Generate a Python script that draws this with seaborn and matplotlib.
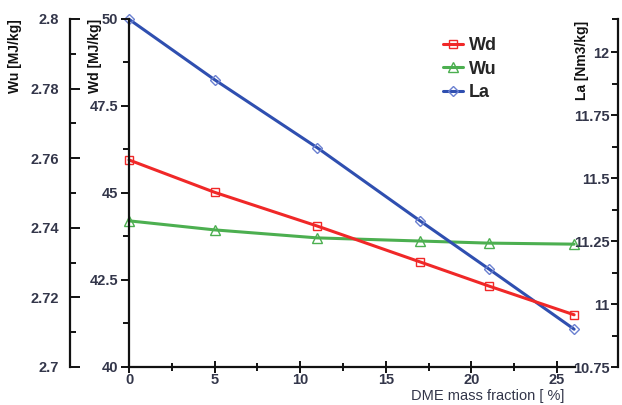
import matplotlib
matplotlib.use("Agg")
import matplotlib.pyplot as plt
import seaborn as sns
import pandas as pd
from matplotlib.ticker import MultipleLocator, FixedLocator, FormatStrFormatter

# ---- data ----
dme = [0, 5, 11, 17, 21, 26]
wd = [45.95, 45.02, 44.05, 43.02, 42.33, 41.5]
wu = [2.742, 2.7394, 2.7371, 2.7362, 2.7356, 2.7353]
la = [12.13, 11.89, 11.62, 11.33, 11.14, 10.90]

wd_ticks = [40, 42.5, 45, 47.5, 50]
wu_ticks = [2.7, 2.72, 2.74, 2.76, 2.78, 2.8]
la_ticks = [10.75, 11, 11.25, 11.5, 11.75, 12]
x_ticks = [0, 5, 10, 15, 20, 25]

df = pd.DataFrame({"DME": dme, "Wd": wd, "Wu": wu, "La": la})

sns.set_theme(style="white")
plt.rcParams['font.family'] = ['Liberation Sans', 'DejaVu Sans']

W, H = 622, 405
fig = plt.figure(figsize=(W / 100, H / 100), dpi=100)
x0, x1, y0, y1 = 129, 575, 19, 367
ax = fig.add_axes([x0 / W, 1 - y1 / H, (x1 - x0) / W, (y1 - y0) / H])
ax.set_facecolor("white")
fig.patch.set_facecolor("white")

red, green, blue = "#f02828", "#4caf50", "#2f4fb0"
tick_color = "#33364a"
fmt = FormatStrFormatter("%g")

sns.lineplot(data=df, x="DME", y="Wd", ax=ax, color=red, marker="s", markersize=6,
             markerfacecolor="none", markeredgecolor=red, markeredgewidth=1.0, lw=2.2,
             label="Wd", legend=False, clip_on=False)

ax2 = ax.twinx()
sns.lineplot(data=df, x="DME", y="Wu", ax=ax2, color=green, marker="^", markersize=7,
             markerfacecolor="none", markeredgecolor=green, markeredgewidth=1.0, lw=2.2,
             label="Wu", legend=False, clip_on=False)

ax3 = ax.twinx()
sns.lineplot(data=df, x="DME", y="La", ax=ax3, color=blue, marker="D", markersize=5.5,
             markerfacecolor="none", markeredgecolor="#6a80d0", markeredgewidth=1.0, lw=2.2,
             label="La", legend=False, clip_on=False)

# x axis
ax.set_xlim(0, (x1 - x0) / 17.12)
ax.xaxis.set_major_locator(FixedLocator(x_ticks))
ax.xaxis.set_minor_locator(FixedLocator([2.5, 7.5, 12.5, 17.5, 22.5]))
ax.xaxis.set_major_formatter(fmt)
ax.tick_params(axis="x", which="major", direction="inout", length=9, width=1.4,
               colors="#111111", labelcolor=tick_color, labelsize=10.5, pad=0)
ax.tick_params(axis="x", which="minor", direction="inout", length=6, width=1.4, colors="#111111")
ax.tick_params(axis="x", which="both", bottom=True)
ax.set_xlabel("")
for lbl in ax.get_xticklabels():
    lbl.set_fontweight("bold")

# Wd axis (main left)
ax.set_ylim(40, 50)
ax.yaxis.set_major_locator(FixedLocator(wd_ticks))
ax.yaxis.set_minor_locator(MultipleLocator(1.25))
ax.yaxis.set_major_formatter(fmt)
ax.tick_params(axis="y", which="major", direction="out", length=6, width=1.4,
               colors="#111111", labelcolor=tick_color, labelsize=10.5, left=True, pad=2)
ax.tick_params(axis="y", which="minor", direction="out", length=4, width=1.4,
               colors="#111111", left=True)
ax.set_ylabel("")
for lbl in ax.get_yticklabels():
    lbl.set_fontweight("bold")

for s in ["top", "right"]:
    ax.spines[s].set_visible(False)
for s in ["left", "bottom"]:
    ax.spines[s].set_color("#111111")
    ax.spines[s].set_linewidth(1.6)

# Wu axis (outer left)
ax2.set_ylim(2.7, 2.8)
ax2.yaxis.tick_left()
ax2.yaxis.set_label_position("left")
ax2.spines["left"].set_visible(True)
ax2.spines["left"].set_position(("axes", (70 - x0) / (x1 - x0)))
ax2.spines["left"].set_color("#111111")
ax2.spines["left"].set_linewidth(1.6)
for s in ["top", "right", "bottom"]:
    ax2.spines[s].set_visible(False)
ax2.yaxis.set_major_locator(FixedLocator(wu_ticks))
ax2.yaxis.set_minor_locator(FixedLocator([2.71, 2.73, 2.75, 2.77, 2.79]))
ax2.yaxis.set_major_formatter(fmt)
ax2.tick_params(axis="y", which="major", direction="in", length=7, width=1.4,
                colors="#111111", labelcolor=tick_color, labelsize=10.5, left=True, right=False, pad=8)
ax2.tick_params(axis="y", which="minor", direction="in", length=4, width=1.4,
                colors="#111111", left=True, right=False)
ax2.set_ylabel("")
for lbl in ax2.get_yticklabels():
    lbl.set_fontweight("bold")

# La axis (far right, labels on its left)
ax3.set_ylim(10.75, 10.75 + (y1 - y0) / 252.0)
ax3.yaxis.tick_left()
ax3.spines["left"].set_visible(True)
ax3.spines["left"].set_position(("axes", (618 - x0) / (x1 - x0)))
ax3.spines["left"].set_color("#111111")
ax3.spines["left"].set_linewidth(1.6)
for s in ["top", "right", "bottom"]:
    ax3.spines[s].set_visible(False)
ax3.yaxis.set_major_locator(FixedLocator(la_ticks))
ax3.yaxis.set_minor_locator(FixedLocator([10.875, 11.125, 11.375, 11.625, 11.875, 12.13]))
ax3.yaxis.set_major_formatter(fmt)
ax3.tick_params(axis="y", which="major", direction="out", length=5, width=1.4,
                colors="#111111", labelcolor=tick_color, labelsize=10.5, left=True, right=False, pad=1)
ax3.tick_params(axis="y", which="minor", direction="out", length=4, width=1.4,
                colors="#111111", left=True, right=False)
ax3.set_ylabel("")
for lbl in ax3.get_yticklabels():
    lbl.set_fontweight("bold")

# axis titles
fig.text(15 / W, 1 - 19 / H, "Wu [MJ/kg]", rotation=90, ha="center", va="top",
         fontsize=10, fontweight="bold", color="#111111")
fig.text(95 / W, 1 - 19 / H, "Wd [MJ/kg]", rotation=90, ha="center", va="top",
         fontsize=10, fontweight="bold", color="#111111")
fig.text(582 / W, 1 - 21 / H, "La [Nm3/kg]", rotation=90, ha="center", va="top",
         fontsize=10, fontweight="bold", color="#111111")
fig.text(488 / W, 1 - 396 / H, "DME mass fraction [ %]", ha="center", va="center",
         fontsize=10.5, color=tick_color)

# legend
handles = ax.get_lines()[:1] + ax2.get_lines()[:1] + ax3.get_lines()[:1]
leg = ax.legend(handles, ["Wd", "Wu", "La"], loc="upper left",
                bbox_to_anchor=((436 - x0) / (x1 - x0), 1 - (30 - y0) / (y1 - y0)),
                frameon=False, handlelength=1.1, handletextpad=0.3, labelspacing=0.35,
                prop={"weight": "bold", "size": 13}, borderaxespad=0)
ax.set_zorder(ax3.get_zorder() + 1)
ax.patch.set_visible(False)

fig.savefig("out.png", dpi=100, facecolor="white")
